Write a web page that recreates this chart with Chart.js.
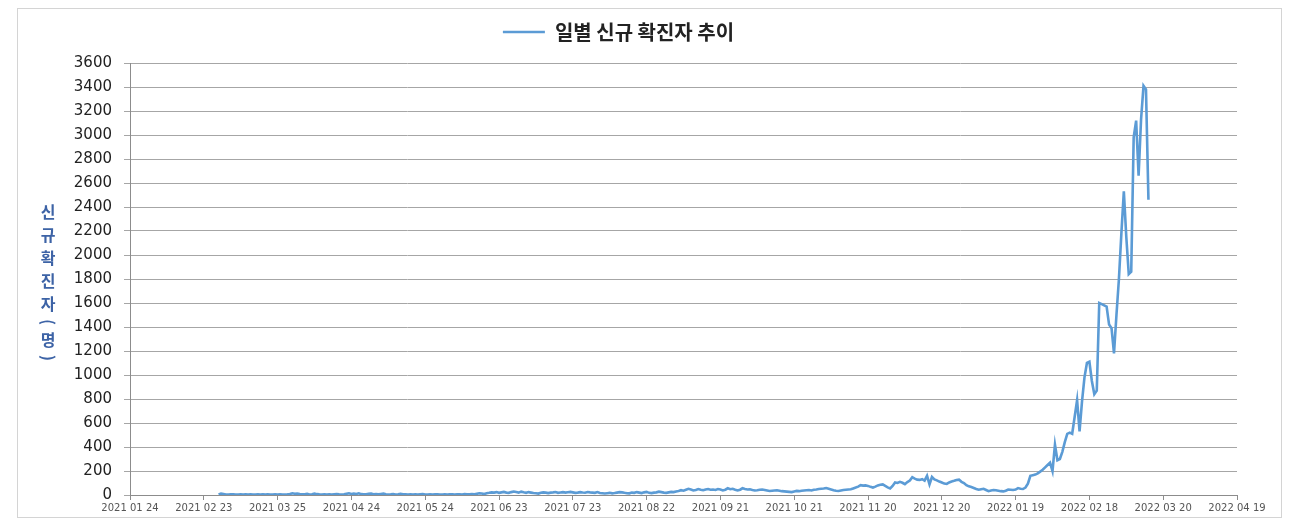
<!DOCTYPE html>
<html lang="ko">
<head>
<meta charset="utf-8">
<title>일별 신규 확진자 추이</title>
<script src="https://cdn.jsdelivr.net/npm/chart.js@4.4.1/dist/chart.umd.min.js"></script>
<style>
    body { margin: 0; background: #ffffff; }
    #wrap { position: relative; width: 1292px; height: 522px; }
    #frame {
        position: absolute; left: 17px; top: 8px; width: 1263px; height: 508px;
        border: 1px solid #d4d4d4; pointer-events: none;
    }
    #yTitle {
        position: absolute; left: 36px; top: 204px;
        writing-mode: vertical-rl; text-orientation: mixed;
        font-family: "Noto Sans CJK KR", sans-serif; font-weight: bold;
        font-size: 16px; letter-spacing: 7px; color: #3d63a6;
    }
</style>
</head>
<body>
<div id="wrap">
    <canvas id="myChart" width="1292" height="522"></canvas>
    <div id="frame"></div>
    <div id="yTitle">신규확진자(명)</div>
</div>
<script>
// day 0 = 2021-01-24, one tick every 30 days
const tickLabels = ['2021 01 24', '2021 02 23', '2021 03 25', '2021 04 24', '2021 05 24', '2021 06 23',
    '2021 07 23', '2021 08 22', '2021 09 21', '2021 10 21', '2021 11 20', '2021 12 20',
    '2022 01 19', '2022 02 18', '2022 03 20', '2022 04 19'];

// first value is 2021-03-01 (day 36)
const firstDay = 36;

// daily new cases
const dailyCases = [
    5, 12, 8, 4, 3, 6, 5, 4, 3, 5,
    4, 6, 3, 5, 4, 3, 5, 4, 6, 3,
    5, 4, 3, 6, 4, 5, 3, 4, 5, 8,
    14, 10, 12, 8, 6, 5, 9, 4, 6, 12,
    7, 5, 4, 6, 3, 5, 4, 6, 8, 5,
    4, 6, 10, 14, 8, 12, 9, 14, 7, 5,
    6, 10, 12, 6, 8, 5, 9, 12, 6, 4,
    5, 8, 4, 6, 10, 6, 5, 4, 6, 3,
    5, 4, 6, 8, 4, 3, 5, 4, 6, 5,
    4, 3, 5, 4, 6,
    // day 131
    5, 4, 6, 5, 4, 7, 6, 5, 8, 6,
    10, 14, 12, 8, 15, 18, 22, 20, 24, 18,
    22, 26, 20, 18, 24, 29, 25, 20, 28, 22,
    18, 24, 20, 16, 14, 12, 18, 22, 20, 16,
    20, 22, 25, 18, 21, 24, 20, 23, 26, 22,
    18, 20, 24, 21, 19, 25, 22, 20, 18, 24,
    16, 14, 12, 15, 18, 14, 16, 20, 24, 22,
    // day 201
    18, 15, 14, 20, 18, 24, 20, 16, 22, 26,
    18, 16, 20, 22, 28, 24, 20, 18, 22, 26,
    24, 30, 34, 40, 36, 44, 52, 46, 38, 42, 50, 44,
    // day 233
    40, 46, 50, 44, 46, 42, 50, 46, 38, 44,
    56, 48, 52, 44, 38, 44, 56, 50, 46, 48,
    42, 38, 40, 44, 46, 42, 38, 34, 36, 38,
    40, 36, 32, 30, 28, 26, 24, 30, 34, 32,
    36, 38, 40, 42, 38, 44, 46, 50, 52, 54,
    58, 52, 46, 40, 36, 34, 38, 42, 44, 46,
    // day 293
    48, 55, 62, 70, 82, 78, 80, 76, 68, 62,
    70, 80, 85, 88, 76, 64, 55, 75, 105, 100,
    110, 102, 90, 108, 120, 148, 136, 128, 126, 132,
    120, 160, 88, 150, 130, 122, 112, 104, 95, 92,
    105, 112, 118, 125, 128, 110, 100, 82, 72, 66,
    58, 50, 44, 48, 52, 42, 32, 38, 42, 40,
    36, 32, 30, 36, 46, 44, 42,
    // day 360 (2022-01-19)
    45, 58, 52, 50, 62, 95, 160, 165, 170, 180,
    195, 210, 230, 250, 270, 200, 420, 290, 300, 360,
    440, 510, 520, 510, 650, 790, 530, 780, 980, 1100,
    1110, 950, 840, 870, 1600, 1590, 1580, 1570, 1420, 1390,
    1180, 1500, 1800, 2180, 2530, 2150, 1840, 1860, 2980, 3120,
    2660, 3130, 3410, 3380, 2460
];

const yTicks = { min: 0, max: 3600, step: 200 };

const points = dailyCases.map((v, i) => ({ x: firstDay + i, y: v }));

const ctx = document.getElementById('myChart');

new Chart(ctx, {
    type: 'line',
    data: {
        datasets: [{
            label: '일별 신규 확진자 추이',
            data: points,
            borderColor: '#5b9bd5',
            backgroundColor: '#5b9bd5',
            borderWidth: 2.6,
            pointRadius: 0,
            tension: 0
        }]
    },
    options: {
        responsive: false,
        animation: false,
        devicePixelRatio: 1,
        layout: { padding: { left: 0, right: 55, top: 0, bottom: 0 } },
        plugins: {
            tooltip: { enabled: false },
            legend: {
                position: 'top',
                labels: {
                    usePointStyle: true,
                    pointStyle: 'line',
                    pointStyleWidth: 42,
                    padding: 22,
                    color: '#222222',
                    font: { family: '"Noto Sans CJK KR", sans-serif', size: 20, weight: 'bold' }
                }
            }
        },
        scales: {
            x: {
                type: 'linear',
                min: 0,
                max: 450,
                afterFit: s => { s.height = 27; },
                grid: { display: true, drawOnChartArea: false, drawTicks: true, tickLength: 5, color: '#8c8c8c' },
                border: { display: true, color: '#8c8c8c' },
                ticks: {
                    stepSize: 30,
                    autoSkip: false,
                    maxRotation: 0,
                    padding: 2,
                    color: '#555555',
                    font: { family: '"DejaVu Sans"', size: 10 },
                    callback: v => tickLabels[v / 30]
                }
            },
            xTop: {
                type: 'linear',
                position: 'top',
                display: true,
                afterFit: s => { s.height = 11; },
                grid: { display: false, drawTicks: false },
                border: { display: false },
                ticks: { display: false }
            },
            y: {
                min: yTicks.min,
                max: yTicks.max,
                afterFit: s => { s.width = 130; },
                grid: { color: '#a6a6a6', drawTicks: true, tickLength: 6 },
                border: { display: true, color: '#8c8c8c' },
                ticks: {
                    stepSize: yTicks.step,
                    padding: 12,
                    color: '#222222',
                    font: { family: '"DejaVu Sans"', size: 15 },
                    callback: v => String(v)
                }
            }
        }
    }
});
</script>
</body>
</html>
